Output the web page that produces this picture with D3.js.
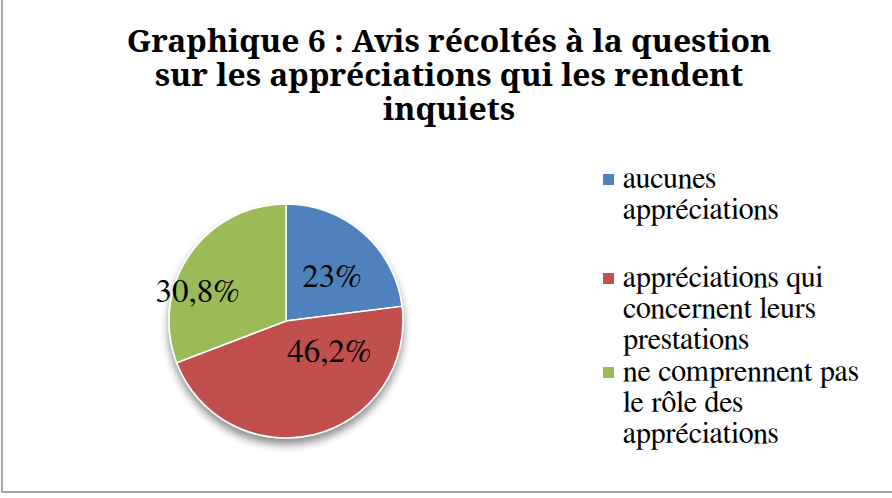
<!DOCTYPE html>
<html>
<head>
<meta charset="utf-8">
<script src="https://cdn.jsdelivr.net/npm/d3@7"></script>
<style>
  html, body { margin: 0; padding: 0; background: #fff; }
  svg { display: block; }
</style>
</head>
<body>
<div id="chart"></div>
<script>
// data
var categories = ["aucunes appréciations", "appréciations qui concernent leurs prestations", "ne comprennent pas le rôle des appréciations"];
var values = [23, 46.2, 30.8];
var valueLabels = ["23%", "46,2%", "30,8%"];
var legendLines = [
  ["aucunes", "appréciations"],
  ["appréciations qui", "concernent leurs", "prestations"],
  ["ne comprennent pas", "le rôle des", "appréciations"]
];
var titleLines = ["Graphique 6 : Avis récoltés à la question", "sur les appréciations qui les rendent", "inquiets"];

var colors = ["#4f81bd", "#c0504d", "#9bbb59"];
var bodyFont = "FreeSerif, 'Liberation Serif'";
var titleFont = "'Noto Serif', 'Liberation Serif'";

var width = 892, height = 498;
var svg = d3.select("#chart").append("svg")
  .attr("width", width)
  .attr("height", height);

var defs = svg.append("defs");
var shadow = defs.append("filter").attr("id", "shadow")
  .attr("x", "-20%").attr("y", "-20%").attr("width", "140%").attr("height", "140%");
shadow.append("feGaussianBlur").attr("in", "SourceAlpha").attr("stdDeviation", 4);
shadow.append("feOffset").attr("dy", 6).attr("result", "off");
shadow.append("feComponentTransfer").append("feFuncA").attr("type", "linear").attr("slope", 0.45);
var merge = shadow.append("feMerge");
merge.append("feMergeNode");
merge.append("feMergeNode").attr("in", "SourceGraphic");

// frame (only left and bottom edges are inside the picture)
svg.append("path")
  .attr("d", "M2,0 V492 H892")
  .attr("fill", "none")
  .attr("stroke", "#a6a6a6")
  .attr("stroke-width", 2);

// title, squeezed horizontally like the original
var titleG = svg.append("g");
var title = titleG.append("text")
  .attr("text-anchor", "middle")
  .style("font-family", titleFont)
  .style("font-weight", "bold")
  .style("font-size", "31px")
  .attr("fill", "#000");
title.selectAll("tspan")
  .data(titleLines)
  .enter()
  .append("tspan")
  .attr("x", 0)
  .attr("y", function (d, i) { return 52 + i * 34; })
  .text(function (d) { return d; });
var firstLine = title.select("tspan").node().getComputedTextLength();
var sx = 645 / firstLine;
titleG.attr("transform", "translate(449,0) scale(" + sx + ",1)");

// pie
var cx = 286, cy = 321, radius = 117;
var pie = d3.pie().sort(null).value(function (d) { return d; });
var arc = d3.arc().innerRadius(0).outerRadius(radius);
var arcs = pie(values);

var pieG = svg.append("g")
  .attr("transform", "translate(" + cx + "," + cy + ")");

pieG.append("g")
  .attr("filter", "url(#shadow)")
  .selectAll("path")
  .data(arcs)
  .enter()
  .append("path")
  .attr("d", arc)
  .attr("fill", function (d, i) { return colors[i]; })
  .attr("stroke", "#fff")
  .attr("stroke-width", 1.5);

// labels: placed along each slice the way Excel's best-fit put them
var labelAt = [0.55, 0.25, 0.36];     // fraction of the slice's sweep
var labelRadius = [0.55, 0.45, 0.8];  // fraction of the radius
pieG.selectAll("text.lbl")
  .data(arcs)
  .enter()
  .append("text")
  .attr("class", "lbl")
  .attr("text-anchor", "middle")
  .style("font-family", bodyFont)
  .style("font-size", "33px")
  .attr("fill", "#000")
  .attr("transform", function (d, i) {
    var a = d.startAngle + (d.endAngle - d.startAngle) * labelAt[i];
    var r = radius * labelRadius[i];
    return "translate(" + (Math.sin(a) * r) + "," + (-Math.cos(a) * r) + ")";
  })
  .attr("dy", "0.35em")
  .text(function (d, i) { return valueLabels[i]; });

// legend
var legendTops = [188, 287, 381];
var lineStep = 31;
var item = svg.append("g").selectAll("g")
  .data(categories)
  .enter()
  .append("g");

item.append("rect")
  .attr("x", 603)
  .attr("y", function (d, i) { return legendTops[i] - 14; })
  .attr("width", 11)
  .attr("height", 11)
  .attr("fill", function (d, i) { return colors[i]; });

item.append("text")
  .style("font-family", bodyFont)
  .style("font-size", "30px")
  .attr("fill", "#000")
  .selectAll("tspan")
  .data(function (d, i) { return legendLines[i].map(function (t, j) { return {t: t, y: legendTops[i] + j * lineStep}; }); })
  .enter()
  .append("tspan")
  .attr("x", 623)
  .attr("y", function (d) { return d.y; })
  .text(function (d) { return d.t; });
</script>
</body>
</html>
